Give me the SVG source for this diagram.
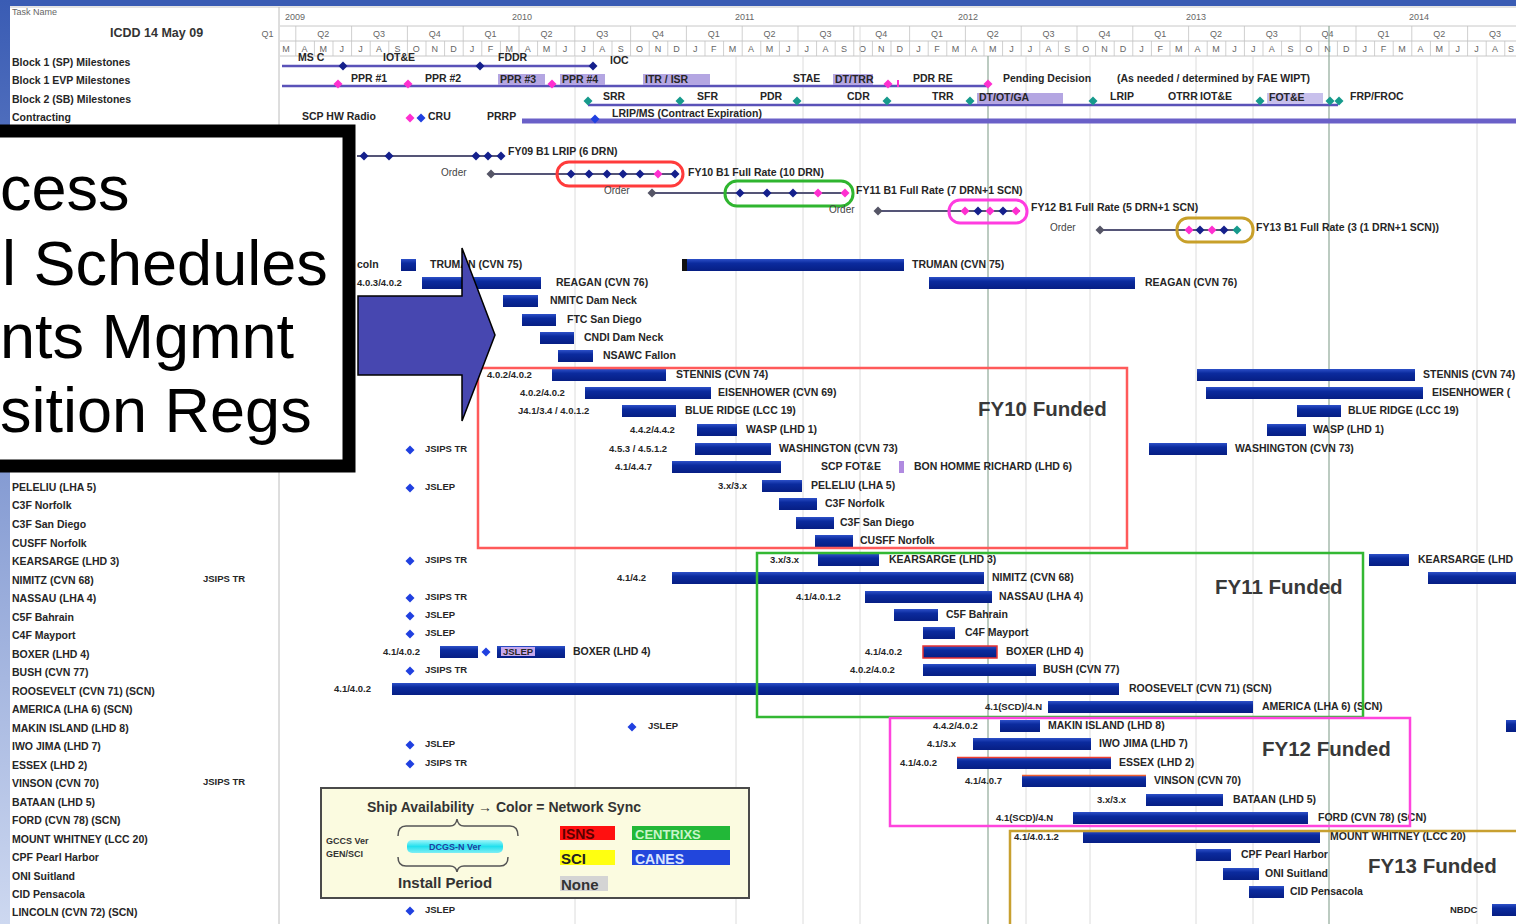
<svg xmlns="http://www.w3.org/2000/svg" width="1516" height="924" viewBox="0 0 1516 924">
<defs>
<linearGradient id="side" x1="0" y1="0" x2="0" y2="1"><stop offset="0" stop-color="#3a5cb4"/><stop offset="1" stop-color="#cdd8f0"/></linearGradient>
<linearGradient id="gb" x1="0" y1="0" x2="0" y2="1"><stop offset="0" stop-color="#2d50c8"/><stop offset="0.35" stop-color="#0b2b9e"/><stop offset="1" stop-color="#061e84"/></linearGradient>
<linearGradient id="cy" x1="0" y1="0" x2="0" y2="1"><stop offset="0" stop-color="#9ff6fa"/><stop offset="0.5" stop-color="#22e0ee"/><stop offset="1" stop-color="#7feef4"/></linearGradient>
<pattern id="mgrid" patternUnits="userSpaceOnUse" x="276.7" y="0" width="18.6" height="20"><rect x="0" y="0" width="0.8" height="20" fill="#c4c4c4"/></pattern>
<pattern id="qgrid" patternUnits="userSpaceOnUse" x="295.3" y="0" width="55.8" height="20"><rect x="0" y="0" width="0.8" height="20" fill="#c4c4c4"/></pattern>
<path id="dm" d="M0,-4.5L4.5,0L0,4.5L-4.5,0Z"/>
</defs>
<style>
.t{font-family:"Liberation Sans",Arial,sans-serif;font-weight:bold;font-size:10.5px;fill:#262626}
.v{font-size:9.5px}
.o{font-weight:normal;font-size:10px;fill:#444}
.h{font-family:"Liberation Sans",Arial,sans-serif;font-size:9px;fill:#666}
.bar{fill:url(#gb)}
.nv{fill:#15208c}
.mg{fill:#ff2fd0}
.tl{fill:#169a8c}
.bl{fill:#2040e0}
.gr{fill:#555566}
.ln{stroke:#5a52b8;stroke-width:2.5;fill:none}
.ol{stroke:#555577;stroke-width:2;fill:none}
.fund{font-family:"Liberation Sans",Arial,sans-serif;font-weight:bold;font-size:20.5px;fill:#383838}
.big{font-family:"Liberation Sans",Arial,sans-serif;font-size:63px;fill:#000}
.sh{fill:#b4a6e2}
.grid{stroke:#dcdcdc;stroke-width:1}
.gridd{stroke:#8fa898;stroke-width:1.2}
.lg{font-family:"Liberation Sans",Arial,sans-serif;font-weight:bold}
</style>

<rect x="0" y="0" width="1516" height="924" fill="#ffffff"/>
<rect x="0" y="0" width="1516" height="6" fill="#3a5cb4"/>
<rect x="0" y="0" width="10" height="924" fill="url(#side)"/>

<g id="header">
<line x1="10" y1="7" x2="1516" y2="7" stroke="#c8c8c8"/>
<line x1="280" y1="26" x2="1516" y2="26" stroke="#c8c8c8"/>
<line x1="280" y1="41" x2="1516" y2="41" stroke="#c8c8c8"/>
<line x1="280" y1="56" x2="1516" y2="56" stroke="#c8c8c8"/>
<line x1="279" y1="7" x2="279" y2="924" stroke="#bcbcbc"/>
<rect x="280" y="26" width="1236" height="15" fill="url(#qgrid)"/>
<rect x="280" y="41" width="1236" height="15" fill="url(#mgrid)"/>
<text class="h" x="12" y="15">Task Name</text>
<text class="lg" x="110" y="37" font-size="12.5" fill="#333">ICDD 14 May 09</text>
<text class="h" x="285" y="20">2009</text>
<text class="h" x="512" y="20">2010</text>
<text class="h" x="735" y="20">2011</text>
<text class="h" x="958" y="20">2012</text>
<text class="h" x="1186" y="20">2013</text>
<text class="h" x="1409" y="20">2014</text>
<g class="h" text-anchor="middle">
<text x="267.4" y="37">Q1</text><text x="323.2" y="37">Q2</text><text x="379" y="37">Q3</text><text x="434.8" y="37">Q4</text>
<text x="490.6" y="37">Q1</text><text x="546.4" y="37">Q2</text><text x="602.2" y="37">Q3</text><text x="658" y="37">Q4</text>
<text x="713.8" y="37">Q1</text><text x="769.6" y="37">Q2</text><text x="825.4" y="37">Q3</text><text x="881.2" y="37">Q4</text>
<text x="937" y="37">Q1</text><text x="992.8" y="37">Q2</text><text x="1048.6" y="37">Q3</text><text x="1104.4" y="37">Q4</text>
<text x="1160.2" y="37">Q1</text><text x="1216" y="37">Q2</text><text x="1271.8" y="37">Q3</text><text x="1327.6" y="37">Q4</text>
<text x="1383.4" y="37">Q1</text><text x="1439.2" y="37">Q2</text><text x="1495" y="37">Q3</text>
<text x="286 304.6 323.2 341.8 360.4 379 397.6 416.2 434.8 453.4 472 490.6 509.2 527.8 546.4 565 583.6 602.2 620.8 639.4 658 676.6 695.2 713.8 732.4 751 769.6 788.2 806.8 825.4 844 862.6 881.2 899.8 918.4 937 955.6 974.2 992.8 1011.4 1030 1048.6 1067.2 1085.8 1104.4 1123 1141.6 1160.2 1178.8 1197.4 1216 1234.6 1253.2 1271.8 1290.4 1309 1327.6 1346.2 1364.8 1383.4 1402 1420.6 1439.2 1457.8 1476.4 1495 1511" y="52">MAMJJASONDJFMAMJJASONDJFMAMJJASONDJFMAMJJASONDJFMAMJJASONDJFMAMJJAS</text>
</g>
</g>

<g id="gridlines">
<line class="grid" x1="575" y1="56" x2="575" y2="924"/>
<line class="grid" x1="736" y1="56" x2="736" y2="924"/>
<line class="grid" x1="803" y1="56" x2="803" y2="924"/>
<line class="grid" x1="860" y1="26" x2="860" y2="924"/>
<line class="grid" x1="1026" y1="56" x2="1026" y2="924"/>
<line class="grid" x1="1090" y1="56" x2="1090" y2="924"/>
<line class="grid" x1="1196" y1="56" x2="1196" y2="924"/>
<line class="grid" x1="1253" y1="56" x2="1253" y2="924"/>
<line class="grid" x1="1477" y1="56" x2="1477" y2="924"/>
<line class="gridd" x1="988" y1="56" x2="988" y2="924"/>
<line class="gridd" x1="1329" y1="26" x2="1329" y2="924"/>
</g>

<g id="task-labels" class="t">
<text x="12" y="66">Block 1 (SP) Milestones</text>
<text x="12" y="84">Block 1 EVP Milestones</text>
<text x="12" y="103">Block 2 (SB) Milestones</text>
<text x="12" y="121">Contracting</text>
<text x="12" y="491">PELELIU (LHA 5)</text>
<text x="12" y="509">C3F Norfolk</text>
<text x="12" y="528">C3F San Diego</text>
<text x="12" y="547">CUSFF Norfolk</text>
<text x="12" y="565">KEARSARGE (LHD 3)</text>
<text x="12" y="584">NIMITZ (CVN 68)</text>
<text x="12" y="602">NASSAU (LHA 4)</text>
<text x="12" y="621">C5F Bahrain</text>
<text x="12" y="639">C4F Mayport</text>
<text x="12" y="658">BOXER (LHD 4)</text>
<text x="12" y="676">BUSH (CVN 77)</text>
<text x="12" y="695">ROOSEVELT (CVN 71) (SCN)</text>
<text x="12" y="713">AMERICA (LHA 6) (SCN)</text>
<text x="12" y="732">MAKIN ISLAND (LHD 8)</text>
<text x="12" y="750">IWO JIMA (LHD 7)</text>
<text x="12" y="769">ESSEX (LHD 2)</text>
<text x="12" y="787">VINSON (CVN 70)</text>
<text x="12" y="806">BATAAN (LHD 5)</text>
<text x="12" y="824">FORD (CVN 78) (SCN)</text>
<text x="12" y="843">MOUNT WHITNEY (LCC 20)</text>
<text x="12" y="861">CPF Pearl Harbor</text>
<text x="12" y="880">ONI Suitland</text>
<text x="12" y="898">CID Pensacola</text>
<text x="12" y="916">LINCOLN (CVN 72) (SCN)</text>
<text x="203" y="582" class="v">JSIPS TR</text>
<text x="203" y="785" class="v">JSIPS TR</text>
</g>

<g id="connectors">
<line class="ln" x1="282" y1="66" x2="593" y2="66"/>
<line class="ln" x1="282" y1="86" x2="988" y2="86"/>
<line class="ln" x1="588" y1="105" x2="1338" y2="105" stroke="#3f4cb8" stroke-width="2"/>
<line x1="522" y1="121" x2="1516" y2="121" stroke="#6a60c8" stroke-width="5"/>
<line class="ol" x1="357" y1="156" x2="501" y2="156"/>
<line class="ol" x1="491" y1="174" x2="678" y2="174"/>
<line class="ol" x1="652" y1="193" x2="846" y2="193"/>
<line class="ol" x1="877" y1="211" x2="1020" y2="211"/>
<line class="ol" x1="1100" y1="230" x2="1240" y2="230"/>
</g>

<g id="block1-sp">
<text class="t" x="298" y="61">MS C</text>
<text class="t" x="383" y="61">IOT&amp;E</text>
<text class="t" x="498" y="61">FDDR</text>
<text class="t" x="610" y="64">IOC</text>
<use href="#dm" x="343" y="66" class="nv"/><use href="#dm" x="480" y="66" class="nv"/><use href="#dm" x="593" y="66" class="nv"/>
</g>

<g id="block1-evp">
<rect class="sh" x="498" y="74" width="47" height="11"/>
<rect class="sh" x="560" y="74" width="45" height="11"/>
<rect class="sh" x="643" y="74" width="67" height="11"/>
<rect class="sh" x="833" y="74" width="40" height="11"/>
<text class="t" x="351" y="82">PPR #1</text>
<text class="t" x="425" y="82">PPR #2</text>
<text class="t" x="500" y="83">PPR #3</text>
<text class="t" x="562" y="83">PPR #4</text>
<text class="t" x="645" y="83">ITR / ISR</text>
<text class="t" x="793" y="82">STAE</text>
<text class="t" x="835" y="83">DT/TRR</text>
<text class="t" x="913" y="82">PDR RE</text>
<text class="t" x="1003" y="82">Pending Decision</text>
<text class="t" x="1117" y="82">(As needed / determined by FAE WIPT)</text>
<use href="#dm" x="338" y="84" class="mg"/><use href="#dm" x="408" y="84" class="mg"/><use href="#dm" x="552" y="84" class="mg"/><use href="#dm" x="888" y="84" class="mg"/><use href="#dm" x="988" y="84" class="mg"/>
<rect x="897" y="80" width="2" height="7" class="mg"/>
</g>

<g id="block2-sb">
<rect class="sh" x="977" y="93" width="86" height="11"/>
<rect x="1267" y="93" width="56" height="11" fill="#c8c0ec"/>
<text class="t" x="603" y="100">SRR</text>
<text class="t" x="697" y="100">SFR</text>
<text class="t" x="760" y="100">PDR</text>
<text class="t" x="847" y="100">CDR</text>
<text class="t" x="932" y="100">TRR</text>
<text class="t" x="979" y="101">DT/OT/GA</text>
<text class="t" x="1110" y="100">LRIP</text>
<text class="t" x="1168" y="100">OTRR</text>
<text class="t" x="1200" y="100">IOT&amp;E</text>
<text class="t" x="1269" y="101">FOT&amp;E</text>
<text class="t" x="1350" y="100">FRP/FROC</text>
<use href="#dm" x="588" y="101" class="tl"/><use href="#dm" x="680" y="101" class="tl"/><use href="#dm" x="797" y="101" class="tl"/><use href="#dm" x="887" y="101" class="tl"/><use href="#dm" x="970" y="101" class="tl"/><use href="#dm" x="1093" y="101" class="tl"/><use href="#dm" x="1260" y="101" class="tl"/><use href="#dm" x="1330" y="101" class="tl"/><use href="#dm" x="1339" y="101" class="tl"/>
</g>

<g id="contracting">
<text class="t" x="302" y="120">SCP HW Radio</text>
<text class="t" x="428" y="120">CRU</text>
<text class="t" x="487" y="120">PRRP</text>
<text class="t" x="612" y="117">LRIP/MS (Contract Expiration)</text>
<use href="#dm" x="410" y="118" class="mg"/><use href="#dm" x="421" y="118" class="bl"/><use href="#dm" x="595" y="119" class="bl"/>
</g>

<g id="fy09-lrip">
<use href="#dm" x="364" y="156" class="nv"/><use href="#dm" x="389" y="156" class="nv"/><use href="#dm" x="476" y="156" class="nv"/><use href="#dm" x="488" y="156" class="nv"/><use href="#dm" x="501" y="156" class="nv"/>
<text class="t" x="508" y="155">FY09 B1 LRIP (6 DRN)</text>
</g>

<g id="fy10-rate">
<text class="t o" x="441" y="176">Order</text>
<use href="#dm" x="491" y="174" class="gr"/>
<rect x="557" y="162" width="126" height="24" rx="12" fill="none" stroke="#ff3b3b" stroke-width="3"/>
<use href="#dm" x="571" y="174" class="nv"/><use href="#dm" x="589" y="174" class="nv"/><use href="#dm" x="607" y="174" class="nv"/><use href="#dm" x="623" y="174" class="nv"/><use href="#dm" x="640" y="174" class="nv"/><use href="#dm" x="658" y="174" class="mg"/><use href="#dm" x="675" y="174" class="nv"/>
<text class="t" x="688" y="176">FY10 B1 Full Rate (10 DRN)</text>
</g>

<g id="fy11-rate">
<text class="t o" x="604" y="194">Order</text>
<use href="#dm" x="652" y="193" class="gr"/>
<rect x="725" y="181" width="128" height="25" rx="12" fill="none" stroke="#2fb52f" stroke-width="3"/>
<use href="#dm" x="740" y="193" class="nv"/><use href="#dm" x="767" y="193" class="nv"/><use href="#dm" x="793" y="193" class="nv"/><use href="#dm" x="818" y="193" class="mg"/><use href="#dm" x="845" y="193" class="mg"/>
<text class="t" x="856" y="194">FY11 B1 Full Rate (7 DRN+1 SCN)</text>
</g>

<g id="fy12-rate">
<text class="t o" x="829" y="213">Order</text>
<use href="#dm" x="878" y="211" class="gr"/>
<rect x="949" y="200" width="78" height="23" rx="11" fill="none" stroke="#ff3ce0" stroke-width="3"/>
<use href="#dm" x="965" y="211" class="mg"/><use href="#dm" x="978" y="211" class="nv"/><use href="#dm" x="990" y="211" class="mg"/><use href="#dm" x="1003" y="211" class="nv"/><use href="#dm" x="1016" y="211" class="mg"/>
<text class="t" x="1031" y="211">FY12 B1 Full Rate (5 DRN+1 SCN)</text>
</g>

<g id="fy13-rate">
<text class="t o" x="1050" y="231">Order</text>
<use href="#dm" x="1100" y="230" class="gr"/>
<rect x="1177" y="218" width="76" height="24" rx="11" fill="none" stroke="#c8a02a" stroke-width="3"/>
<use href="#dm" x="1189" y="230" class="mg"/><use href="#dm" x="1200" y="230" class="nv"/><use href="#dm" x="1212" y="230" class="mg"/><use href="#dm" x="1224" y="230" class="nv"/><use href="#dm" x="1237" y="230" class="tl"/>
<text class="t" x="1256" y="231">FY13 B1 Full Rate (3 (1 DRN+1 SCN))</text>
</g>

<g id="ship-bars" class="t">
<g id="truman"><text x="357" y="268">coln</text><rect class="bar" x="401" y="259" width="15" height="12"/><text x="430" y="268">TRUMAN (CVN 75)</text><rect class="bar" x="683" y="259" width="221" height="12"/><rect x="682" y="259" width="5" height="12" fill="#111"/><text x="912" y="268">TRUMAN (CVN 75)</text></g>
<g id="reagan"><text class="v" x="357" y="286">4.0.3/4.0.2</text><rect class="bar" x="422" y="277" width="119" height="12"/><text x="556" y="286">REAGAN (CVN 76)</text><rect class="bar" x="929" y="277" width="206" height="12"/><text x="1145" y="286">REAGAN (CVN 76)</text></g>
<g id="nmitc"><rect class="bar" x="503" y="295" width="35" height="12"/><text x="550" y="304">NMITC Dam Neck</text></g>
<g id="ftc"><rect class="bar" x="522" y="314" width="34" height="12"/><text x="567" y="323">FTC San Diego</text></g>
<g id="cndi"><rect class="bar" x="540" y="332" width="34" height="12"/><text x="584" y="341">CNDI Dam Neck</text></g>
<g id="nsawc"><rect class="bar" x="558" y="350" width="35" height="12"/><text x="603" y="359">NSAWC Fallon</text></g>
<g id="stennis"><text class="v" x="487" y="378">4.0.2/4.0.2</text><rect class="bar" x="552" y="369" width="114" height="12"/><text x="676" y="378">STENNIS (CVN 74)</text><rect class="bar" x="1197" y="369" width="218" height="12"/><text x="1423" y="378">STENNIS (CVN 74)</text></g>
<g id="eisenhower"><text class="v" x="520" y="396">4.0.2/4.0.2</text><rect class="bar" x="585" y="387" width="126" height="12"/><text x="718" y="396">EISENHOWER (CVN 69)</text><rect class="bar" x="1206" y="387" width="217" height="12"/><text x="1432" y="396">EISENHOWER (</text></g>
<g id="blueridge"><text class="v" x="518" y="414">J4.1/3.4 / 4.0.1.2</text><rect class="bar" x="622" y="405" width="54" height="12"/><text x="685" y="414">BLUE RIDGE (LCC 19)</text><rect class="bar" x="1297" y="405" width="44" height="12"/><text x="1348" y="414">BLUE RIDGE (LCC 19)</text></g>
<g id="wasp"><text class="v" x="630" y="433">4.4.2/4.4.2</text><rect class="bar" x="697" y="424" width="40" height="12"/><text x="746" y="433">WASP (LHD 1)</text><rect class="bar" x="1267" y="424" width="39" height="12"/><text x="1313" y="433">WASP (LHD 1)</text></g>
<g id="washington"><use href="#dm" x="410" y="450" class="bl"/><text class="v" x="425" y="452">JSIPS TR</text><text class="v" x="609" y="452">4.5.3 / 4.5.1.2</text><rect class="bar" x="695" y="443" width="76" height="12"/><text x="779" y="452">WASHINGTON (CVN 73)</text><rect class="bar" x="1149" y="443" width="78" height="12"/><text x="1235" y="452">WASHINGTON (CVN 73)</text></g>
<g id="bhr"><text class="v" x="615" y="470">4.1/4.4.7</text><rect class="bar" x="672" y="461" width="109" height="12"/><text x="821" y="470">SCP FOT&amp;E</text><rect x="899" y="461" width="5" height="12" fill="#b08ae0"/><text x="914" y="470">BON HOMME RICHARD (LHD 6)</text></g>
<g id="peleliu"><use href="#dm" x="410" y="488" class="bl"/><text class="v" x="425" y="490">JSLEP</text><text class="v" x="718" y="489">3.x/3.x</text><rect class="bar" x="762" y="480" width="40" height="12"/><text x="811" y="489">PELELIU (LHA 5)</text></g>
<g id="c3f-norfolk"><rect class="bar" x="779" y="498" width="38" height="12"/><text x="825" y="507">C3F Norfolk</text></g>
<g id="c3f-sandiego"><rect class="bar" x="796" y="517" width="38" height="12"/><text x="840" y="526">C3F San Diego</text></g>
<g id="cusff"><rect class="bar" x="815" y="535" width="38" height="12"/><text x="860" y="544">CUSFF Norfolk</text></g>
<g id="kearsarge"><use href="#dm" x="410" y="561" class="bl"/><text class="v" x="425" y="563">JSIPS TR</text><text class="v" x="770" y="563">3.x/3.x</text><rect class="bar" x="818" y="554" width="61" height="12"/><text x="889" y="563">KEARSARGE (LHD 3)</text><rect class="bar" x="1369" y="554" width="40" height="12"/><text x="1418" y="563">KEARSARGE (LHD</text></g>
<g id="nimitz"><text class="v" x="617" y="581">4.1/4.2</text><rect class="bar" x="672" y="572" width="312" height="12"/><text x="992" y="581">NIMITZ (CVN 68)</text><rect class="bar" x="1428" y="572" width="88" height="12"/></g>
<g id="nassau"><use href="#dm" x="410" y="598" class="bl"/><text class="v" x="425" y="600">JSIPS TR</text><text class="v" x="796" y="600">4.1/4.0.1.2</text><rect class="bar" x="865" y="591" width="127" height="12"/><text x="999" y="600">NASSAU (LHA 4)</text></g>
<g id="c5f"><use href="#dm" x="410" y="616" class="bl"/><text class="v" x="425" y="618">JSLEP</text><rect class="bar" x="894" y="609" width="44" height="12"/><text x="946" y="618">C5F Bahrain</text></g>
<g id="c4f"><use href="#dm" x="410" y="634" class="bl"/><text class="v" x="425" y="636">JSLEP</text><rect class="bar" x="923" y="627" width="32" height="12"/><text x="965" y="636">C4F Mayport</text></g>
<g id="boxer"><text class="v" x="383" y="655">4.1/4.0.2</text><rect class="bar" x="440" y="646" width="38" height="12"/><use href="#dm" x="486" y="652" class="bl"/><rect class="bar" x="497" y="646" width="68" height="12"/><rect x="501" y="647" width="34" height="9" fill="#c6a8ec"/><text class="v" x="503" y="655">JSLEP</text><text x="573" y="655">BOXER (LHD 4)</text><text class="v" x="865" y="655">4.1/4.0.2</text><rect class="bar" x="923" y="646" width="74" height="12" stroke="#e83030" stroke-width="1.5"/><text x="1006" y="655">BOXER (LHD 4)</text></g>
<g id="bush"><use href="#dm" x="410" y="671" class="bl"/><text class="v" x="425" y="673">JSIPS TR</text><text class="v" x="850" y="673">4.0.2/4.0.2</text><rect class="bar" x="923" y="664" width="113" height="12"/><text x="1043" y="673">BUSH (CVN 77)</text></g>
<g id="roosevelt"><text class="v" x="334" y="692">4.1/4.0.2</text><rect class="bar" x="392" y="683" width="727" height="12"/><text x="1129" y="692">ROOSEVELT (CVN 71) (SCN)</text></g>
<g id="america"><text class="v" x="985" y="710">4.1(SCD)/4.N</text><rect class="bar" x="1048" y="701" width="205" height="12"/><text x="1262" y="710">AMERICA (LHA 6) (SCN)</text></g>
<g id="makin"><use href="#dm" x="632" y="727" class="bl"/><text class="v" x="648" y="729">JSLEP</text><text class="v" x="933" y="729">4.4.2/4.0.2</text><rect class="bar" x="1000" y="720" width="40" height="12"/><text x="1048" y="729">MAKIN ISLAND (LHD 8)</text><rect class="bar" x="1506" y="720" width="10" height="12"/></g>
<g id="iwojima"><use href="#dm" x="410" y="745" class="bl"/><text class="v" x="425" y="747">JSLEP</text><text class="v" x="927" y="747">4.1/3.x</text><rect class="bar" x="973" y="738" width="118" height="12"/><text x="1099" y="747">IWO JIMA (LHD 7)</text></g>
<g id="essex"><use href="#dm" x="410" y="764" class="bl"/><text class="v" x="425" y="766">JSIPS TR</text><text class="v" x="900" y="766">4.1/4.0.2</text><rect class="bar" x="957" y="757" width="154" height="12"/><line x1="957" y1="757.5" x2="1111" y2="757.5" stroke="#f04030" stroke-width="1.5"/><text x="1119" y="766">ESSEX (LHD 2)</text></g>
<g id="vinson"><text class="v" x="965" y="784">4.1/4.0.7</text><rect class="bar" x="1022" y="775" width="124" height="12"/><line x1="1022" y1="775.5" x2="1146" y2="775.5" stroke="#f06030" stroke-width="1.5"/><text x="1154" y="784">VINSON (CVN 70)</text></g>
<g id="bataan"><text class="v" x="1097" y="803">3.x/3.x</text><rect class="bar" x="1146" y="794" width="77" height="12"/><text x="1233" y="803">BATAAN (LHD 5)</text></g>
<g id="ford"><text class="v" x="996" y="821">4.1(SCD)/4.N</text><rect class="bar" x="1073" y="812" width="235" height="12"/><text x="1318" y="821">FORD (CVN 78) (SCN)</text></g>
<g id="mountwhitney"><text class="v" x="1014" y="840">4.1/4.0.1.2</text><rect class="bar" x="1083" y="831" width="237" height="12"/><text x="1330" y="840">MOUNT WHITNEY (LCC 20)</text></g>
<g id="cpf"><rect class="bar" x="1196" y="849" width="35" height="12"/><text x="1241" y="858">CPF Pearl Harbor</text></g>
<g id="oni"><rect class="bar" x="1223" y="868" width="36" height="12"/><text x="1265" y="877">ONI Suitland</text></g>
<g id="cid"><rect class="bar" x="1249" y="886" width="35" height="12"/><text x="1290" y="895">CID Pensacola</text></g>
<g id="lincoln"><use href="#dm" x="410" y="911" class="bl"/><text class="v" x="425" y="913">JSLEP</text><text class="v" x="1450" y="913">NBDC</text><rect class="bar" x="1492" y="904" width="24" height="12"/></g>
</g>

<g id="funded-frames">
<g id="fy10-funded"><rect x="478" y="368" width="649" height="180" fill="none" stroke="#ff5a5a" stroke-width="2.5"/><text class="fund" x="978" y="416">FY10 Funded</text></g>
<g id="fy11-funded"><rect x="757" y="553" width="606" height="164" fill="none" stroke="#33b833" stroke-width="2.5"/><text class="fund" x="1215" y="594">FY11 Funded</text></g>
<g id="fy12-funded"><rect x="890" y="718" width="520" height="108" fill="none" stroke="#ff44dd" stroke-width="2.5"/><text class="fund" x="1262" y="756">FY12 Funded</text></g>
<g id="fy13-funded"><rect x="1010" y="831" width="512" height="100" fill="none" stroke="#c8a030" stroke-width="2.5"/><text class="fund" x="1368" y="873">FY13 Funded</text></g>
</g>

<g id="legend">
<rect x="321" y="788" width="428" height="110" fill="#fbfbe0" stroke="#4a4a4a" stroke-width="2"/>
<text class="lg" x="367" y="812" font-size="14" fill="#333">Ship Availability → Color = Network Sync</text>
<text class="lg" x="326" y="844" font-size="9" fill="#333">GCCS Ver</text>
<text class="lg" x="326" y="857" font-size="9" fill="#333">GEN/SCI</text>
<path d="M398,836 Q398,826 406,826 H450 Q456,826 457,819 Q458,826 464,826 H510 Q518,826 518,836" fill="none" stroke="#555" stroke-width="1.5"/>
<rect x="407" y="840" width="96" height="13" rx="5" fill="url(#cy)"/>
<text class="lg" x="455" y="850" font-size="9" fill="#2040a0" text-anchor="middle">DCGS-N Ver</text>
<path d="M398,857 Q398,866 406,866 H450 Q456,866 457,872 Q458,866 464,866 H500 Q508,866 508,857" fill="none" stroke="#555" stroke-width="1.5"/>
<text class="lg" x="398" y="888" font-size="15" fill="#333">Install Period</text>
<rect x="560" y="826" width="55" height="14" fill="#ff1010"/>
<text class="lg" x="562" y="839" font-size="14" fill="#5a0000">ISNS</text>
<rect x="632" y="826" width="98" height="14" fill="#22b838"/>
<text class="lg" x="635" y="839" font-size="13" fill="#c8f5c8">CENTRIXS</text>
<rect x="560" y="850" width="55" height="15" fill="#ffff10"/>
<text class="lg" x="561" y="864" font-size="15" fill="#222">SCI</text>
<rect x="632" y="850" width="98" height="15" fill="#2246dc"/>
<text class="lg" x="635" y="864" font-size="14" fill="#d8e4ff">CANES</text>
<rect x="560" y="876" width="48" height="15" fill="#d4d4d4"/>
<text class="lg" x="561" y="890" font-size="15" fill="#333">None</text>
</g>

<g id="callout-box">
<rect x="-20" y="131" width="369" height="335" fill="#ffffff" stroke="#000" stroke-width="13"/>
<text class="big" x="0" y="210">cess</text>
<text class="big" x="2" y="285">l Schedules</text>
<text class="big" x="0" y="358">nts Mgmnt</text>
<text class="big" x="0" y="432">sition Regs</text>
</g>

<g id="block-arrow">
<path d="M358,296 H462 V248 L495,335 L462,421 V375 H358 Z" fill="#4747b0" stroke="#000" stroke-width="1.5"/>
</g>
</svg>
